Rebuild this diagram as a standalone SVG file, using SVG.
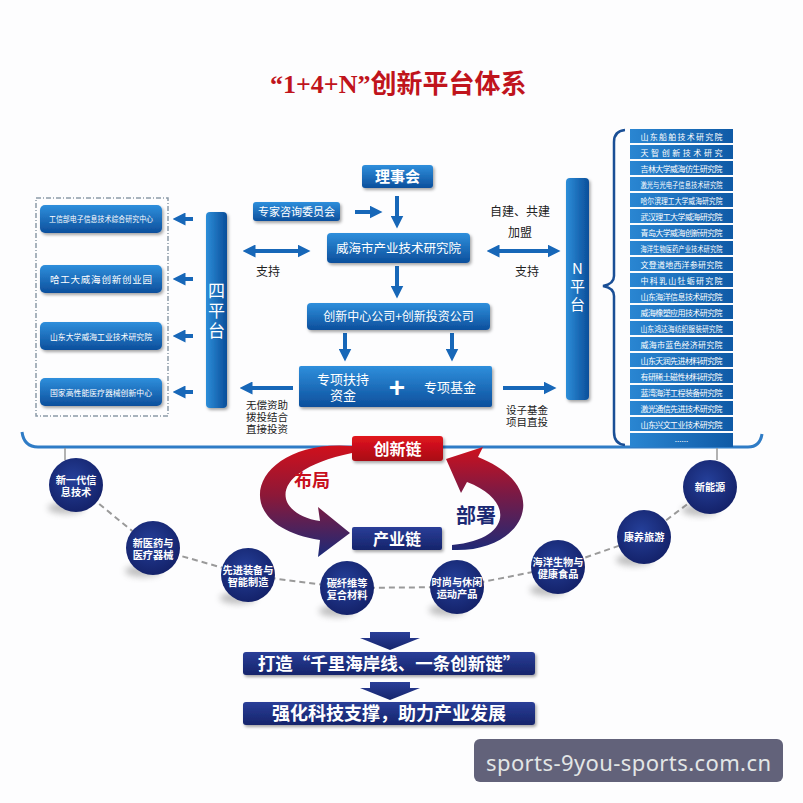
<svg xmlns="http://www.w3.org/2000/svg" width="803" height="803" viewBox="0 0 803 803">
<defs>
<style>
.cjk{font-family:"Noto Sans CJK SC","Noto Sans",sans-serif}
.wt{fill:#fff;text-anchor:middle}
.dk{fill:#222;text-anchor:middle}
.bx{fill:url(#gBox);filter:url(#sh)}
.ln{stroke:#1767b8;stroke-width:4;fill:none}
.li{fill:url(#gItem)}
.it{font-size:8px;fill:#fff;text-anchor:middle}
.cc{fill:url(#gCir)}
.ct{font-size:10.2px;font-weight:bold;fill:#fff;text-anchor:middle}
.cs{fill:#777;opacity:.45;filter:url(#bl)}
.nv{fill:url(#gNavy)}
</style>
<linearGradient id="gBox" x1="0" y1="0" x2="0" y2="1"><stop offset="0" stop-color="#2f8fdc"/><stop offset="1" stop-color="#0c4f9c"/></linearGradient>
<linearGradient id="gItem" x1="0" y1="0" x2="1" y2="0"><stop offset="0" stop-color="#2a86d2"/><stop offset="1" stop-color="#0f5aa6"/></linearGradient>
<linearGradient id="gBar" x1="0" y1="0" x2="1" y2="0"><stop offset="0" stop-color="#2d8ed9"/><stop offset="1" stop-color="#0b4e9a"/></linearGradient>
<linearGradient id="gRed" x1="0" y1="0" x2="0" y2="1"><stop offset="0" stop-color="#e2141f"/><stop offset="1" stop-color="#a80b15"/></linearGradient>
<linearGradient id="gNavy" x1="0" y1="0" x2="0" y2="1"><stop offset="0" stop-color="#2a3e98"/><stop offset="1" stop-color="#15246b"/></linearGradient>
<radialGradient id="gCir" cx="0.45" cy="0.4" r="0.6"><stop offset="0" stop-color="#25409a"/><stop offset="1" stop-color="#14226a"/></radialGradient>
<linearGradient id="gArc1" gradientUnits="userSpaceOnUse" x1="0" y1="446" x2="0" y2="556"><stop offset="0" stop-color="#d0101c"/><stop offset="0.45" stop-color="#8c1838"/><stop offset="1" stop-color="#1c2a78"/></linearGradient>
<linearGradient id="gArc2" gradientUnits="userSpaceOnUse" x1="0" y1="446" x2="0" y2="552"><stop offset="0" stop-color="#d0101c"/><stop offset="0.45" stop-color="#7a1a45"/><stop offset="1" stop-color="#1c2a78"/></linearGradient>
<filter id="sh" x="-10%" y="-20%" width="130%" height="160%"><feDropShadow dx="1.5" dy="2" stdDeviation="1.5" flood-color="#000" flood-opacity="0.35"/></filter>
<filter id="bl" x="-50%" y="-50%" width="200%" height="200%"><feGaussianBlur stdDeviation="3"/></filter>
<marker id="ah" viewBox="0 0 10 10" refX="5" refY="5" markerWidth="13" markerHeight="13" markerUnits="userSpaceOnUse" orient="auto-start-reverse"><path d="M0,0 L10,5 L0,10 z" fill="#1767b8"/></marker>
</defs>
<rect width="803" height="803" fill="#fdfdfe"/>

<text x="270" y="93" font-size="26" font-weight="bold" fill="#c0141c"><tspan font-family="Liberation Serif,serif">“1+4+N”</tspan><tspan font-family="Noto Sans CJK SC,sans-serif">创新平台体系</tspan></text>

<g id="connectors">
<line class="ln" x1="193" y1="219" x2="179" y2="219" marker-end="url(#ah)"/>
<line class="ln" x1="193" y1="279" x2="179" y2="279" marker-end="url(#ah)"/>
<line class="ln" x1="193" y1="336" x2="179" y2="336" marker-end="url(#ah)"/>
<line class="ln" x1="193" y1="392" x2="179" y2="392" marker-end="url(#ah)"/>
<line class="ln" x1="355" y1="212" x2="376" y2="212" marker-end="url(#ah)"/>
<line class="ln" x1="397" y1="196" x2="397" y2="222" marker-end="url(#ah)"/>
<line class="ln" x1="249" y1="251" x2="304" y2="251" marker-start="url(#ah)" marker-end="url(#ah)"/>
<line class="ln" x1="493" y1="251" x2="554" y2="251" marker-start="url(#ah)" marker-end="url(#ah)"/>
<line class="ln" x1="397" y1="266" x2="397" y2="292" marker-end="url(#ah)"/>
<line class="ln" x1="345" y1="333" x2="345" y2="355" marker-end="url(#ah)"/>
<line class="ln" x1="452" y1="333" x2="452" y2="355" marker-end="url(#ah)"/>
<line class="ln" x1="293" y1="388" x2="246" y2="388" marker-end="url(#ah)"/>
<line class="ln" x1="503" y1="388" x2="550" y2="388" marker-end="url(#ah)"/>
<path d="M22 432 Q24 447 38 447 L748 447 Q760 447 762 434" fill="none" stroke="#2f7cc6" stroke-width="3"/>
<path d="M625 130 Q614 131 614 142 L614 276 Q614 284 603 286 Q614 288 614 296 L614 432 Q614 444 625 445" fill="none" stroke="#1a4f96" stroke-width="2.5"/>
<line x1="65" y1="448" x2="65" y2="460" stroke="#999" stroke-width="1.5"/>
<line x1="717" y1="448" x2="717" y2="460" stroke="#999" stroke-width="1.5"/>
<polyline points="76,485 153,548 248,575 347,588 457,587 558,567 644,537 710,487" fill="none" stroke="#9a9a9a" stroke-width="2" stroke-dasharray="6,4"/>
<path d="M352 446 C252 438 222 525 320 540 L318 557 L350 533 L318 507 L320 521 C276 515 262 472 352 453 Z" fill="url(#gArc1)"/>
<path d="M452 550 C524 553 556 488 478 457 L483 447 L446 459 L461 493 L467 482 C515 500 512 540 452 545 Z" fill="url(#gArc2)"/>
<path d="M370 632 L410 632 L410 638 L420 638 L390 650 L360 638 L370 638 Z" fill="url(#gNavy)"/>
<path d="M370 682 L410 682 L410 688 L420 688 L390 700 L360 688 L370 688 Z" fill="url(#gNavy)"/>
</g>

<g id="left-platforms" class="cjk">
<rect x="36" y="198" width="132" height="218" fill="none" stroke="#8c9aa8" stroke-width="1.5" stroke-dasharray="5,2,1,2"/>
<g id="lp1"><rect class="bx" x="40" y="205" width="122" height="28" rx="5"/><text class="wt" x="101" y="222" font-size="8" textLength="104" lengthAdjust="spacingAndGlyphs">工信部电子信息技术综合研究中心</text></g>
<g id="lp2"><rect class="bx" x="40" y="265" width="122" height="28" rx="5"/><text class="wt" x="101" y="282.5" font-size="9.5" textLength="102">哈工大威海创新创业园</text></g>
<g id="lp3"><rect class="bx" x="40" y="322" width="122" height="28" rx="5"/><text class="wt" x="101" y="339.5" font-size="8.5" textLength="102" lengthAdjust="spacingAndGlyphs">山东大学威海工业技术研究院</text></g>
<g id="lp4"><rect class="bx" x="40" y="378" width="122" height="28" rx="5"/><text class="wt" x="101" y="395.5" font-size="8.5" textLength="102" lengthAdjust="spacingAndGlyphs">国家高性能医疗器械创新中心</text></g>
</g>

<g id="four-platform" class="cjk"><rect x="206" y="212" width="21" height="196" rx="4" fill="url(#gBar)" filter="url(#sh)"/><text class="wt" x="216.5" font-size="17"><tspan x="216.5" y="297">四</tspan><tspan x="216.5" y="317">平</tspan><tspan x="216.5" y="337">台</tspan></text></g>

<g id="n-platform" class="cjk"><rect x="566" y="178" width="23" height="222" rx="4" fill="url(#gBar)" filter="url(#sh)"/><text class="wt" font-size="15"><tspan x="577.5" y="274">N</tspan><tspan x="577.5" y="292">平</tspan><tspan x="577.5" y="310">台</tspan></text></g>

<g id="council" class="cjk"><rect class="bx" x="362" y="165" width="71" height="23" rx="3"/><text class="wt" x="397.5" y="182" font-size="15" font-weight="bold">理事会</text></g>
<g id="experts" class="cjk"><rect class="bx" x="253" y="202" width="87" height="19" rx="3"/><text class="wt" x="296.5" y="216" font-size="11">专家咨询委员会</text></g>
<g id="institute" class="cjk"><rect class="bx" x="327" y="233" width="143" height="30" rx="4"/><text class="wt" x="398.5" y="252.5" font-size="12.5">威海市产业技术研究院</text></g>
<g id="companies" class="cjk"><rect class="bx" x="307" y="303" width="183" height="27" rx="4"/><text class="wt" x="398.5" y="321" font-size="12">创新中心公司+创新投资公司</text></g>
<g id="funds" class="cjk"><rect class="bx" x="299" y="366" width="193" height="41" rx="2"/><text class="wt" font-size="13"><tspan x="343" y="384">专项扶持</tspan><tspan x="343" y="400">资金</tspan></text><text class="wt" x="397" y="397" font-size="28" font-weight="bold" font-family="Liberation Sans,sans-serif">+</text><text class="wt" x="450" y="392" font-size="13">专项基金</text></g>

<g id="labels" class="cjk">
<text class="dk" x="268" y="276" font-size="12">支持</text>
<text class="dk" x="520" y="216" font-size="12">自建、共建</text>
<text class="dk" x="520" y="237" font-size="12">加盟</text>
<text class="dk" x="527" y="276" font-size="12">支持</text>
<text class="dk" font-size="10.5"><tspan x="267" y="409">无偿资助</tspan><tspan x="267" y="421">拨投结合</tspan><tspan x="267" y="433">直接投资</tspan></text>
<text class="dk" font-size="10.5"><tspan x="527" y="414">设子基金</tspan><tspan x="527" y="426">项目直投</tspan></text>
</g>

<g id="n-list" class="cjk">
<rect class="li" x="630" y="129" width="103" height="14"/><text class="it" x="681.5" y="139.5" textLength="82">山东船舶技术研究院</text>
<rect class="li" x="630" y="145" width="103" height="14"/><text class="it" x="681.5" y="155.5" textLength="82">天智创新技术研究</text>
<rect class="li" x="630" y="161" width="103" height="14"/><text class="it" x="681.5" y="171.5" textLength="82">吉林大学威海仿生研究院</text>
<rect class="li" x="630" y="177" width="103" height="14"/><text class="it" x="681.5" y="187.5" textLength="82" lengthAdjust="spacingAndGlyphs">激光与光电子信息技术研究院</text>
<rect class="li" x="630" y="193" width="103" height="14"/><text class="it" x="681.5" y="203.5" textLength="82" lengthAdjust="spacingAndGlyphs">哈尔滨理工大学威海研究院</text>
<rect class="li" x="630" y="209" width="103" height="14"/><text class="it" x="681.5" y="219.5" textLength="82">武汉理工大学威海研究院</text>
<rect class="li" x="630" y="225" width="103" height="14"/><text class="it" x="681.5" y="235.5" textLength="82">青岛大学威海创新研究院</text>
<rect class="li" x="630" y="241" width="103" height="14"/><text class="it" x="681.5" y="251.5" textLength="82" lengthAdjust="spacingAndGlyphs">海洋生物医药产业技术研究院</text>
<rect class="li" x="630" y="257" width="103" height="14"/><text class="it" x="681.5" y="267.5" textLength="82">文登道地西洋参研究院</text>
<rect class="li" x="630" y="273" width="103" height="14"/><text class="it" x="681.5" y="283.5" textLength="82">中科乳山牡蛎研究院</text>
<rect class="li" x="630" y="289" width="103" height="14"/><text class="it" x="681.5" y="299.5" textLength="82">山东海洋信息技术研究院</text>
<rect class="li" x="630" y="305" width="103" height="14"/><text class="it" x="681.5" y="315.5" textLength="82">威海橡塑应用技术研究院</text>
<rect class="li" x="630" y="321" width="103" height="14"/><text class="it" x="681.5" y="331.5" textLength="82" lengthAdjust="spacingAndGlyphs">山东鸿达海纺织服装研究院</text>
<rect class="li" x="630" y="337" width="103" height="14"/><text class="it" x="681.5" y="347.5" textLength="82">威海市蓝色经济研究院</text>
<rect class="li" x="630" y="353" width="103" height="14"/><text class="it" x="681.5" y="363.5" textLength="82">山东天润先进材料研究院</text>
<rect class="li" x="630" y="369" width="103" height="14"/><text class="it" x="681.5" y="379.5" textLength="82">有研稀土磁性材料研究院</text>
<rect class="li" x="630" y="385" width="103" height="14"/><text class="it" x="681.5" y="395.5" textLength="82">蓝湾海洋工程装备研究院</text>
<rect class="li" x="630" y="401" width="103" height="14"/><text class="it" x="681.5" y="411.5" textLength="82">激光通信先进技术研究院</text>
<rect class="li" x="630" y="417" width="103" height="14"/><text class="it" x="681.5" y="427.5" textLength="82">山东兴文工业技术研究院</text>
<rect class="li" x="630" y="433" width="103" height="14"/><text class="it" x="681.5" y="442">......</text>
</g>

<g id="chain-innovation" class="cjk"><rect x="352" y="436" width="91" height="25" rx="3" fill="url(#gRed)" filter="url(#sh)"/><text class="wt" x="397.5" y="454.5" font-size="16" font-weight="bold">创新链</text></g>
<g id="chain-industry" class="cjk"><rect x="352" y="527" width="90" height="23" rx="2" class="nv" filter="url(#sh)"/><text class="wt" x="397" y="544.5" font-size="16" font-weight="bold">产业链</text></g>
<text class="cjk" x="312" y="487" font-size="18" font-weight="bold" fill="#c8101e" text-anchor="middle">布局</text>
<text class="cjk" x="476" y="523" font-size="20" font-weight="bold" fill="#1c2a74" text-anchor="middle">部署</text>

<g id="c1" class="cjk"><ellipse class="cs" cx="66" cy="508" rx="18" ry="6"/><circle class="cc" cx="76" cy="485" r="27"/><text class="ct"><tspan x="76" y="483.5">新一代信</tspan><tspan x="76" y="496">息技术</tspan></text></g>
<g id="c2" class="cjk"><ellipse class="cs" cx="143" cy="571" rx="18" ry="6"/><circle class="cc" cx="153" cy="548" r="27"/><text class="ct"><tspan x="153" y="546.5">新医药与</tspan><tspan x="153" y="559">医疗器械</tspan></text></g>
<g id="c3" class="cjk"><ellipse class="cs" cx="238" cy="598" rx="18" ry="6"/><circle class="cc" cx="248" cy="575" r="27"/><text class="ct"><tspan x="248" y="573.5">先进装备与</tspan><tspan x="248" y="586">智能制造</tspan></text></g>
<g id="c4" class="cjk"><ellipse class="cs" cx="337" cy="611" rx="18" ry="6"/><circle class="cc" cx="347" cy="588" r="27"/><text class="ct"><tspan x="347" y="586.5">碳纤维等</tspan><tspan x="347" y="599">复合材料</tspan></text></g>
<g id="c5" class="cjk"><ellipse class="cs" cx="447" cy="610" rx="18" ry="6"/><circle class="cc" cx="457" cy="587" r="27"/><text class="ct"><tspan x="457" y="585.5">时尚与休闲</tspan><tspan x="457" y="598">运动产品</tspan></text></g>
<g id="c6" class="cjk"><ellipse class="cs" cx="548" cy="590" rx="18" ry="6"/><circle class="cc" cx="558" cy="567" r="27"/><text class="ct"><tspan x="558" y="565.5">海洋生物与</tspan><tspan x="558" y="578">健康食品</tspan></text></g>
<g id="c7" class="cjk"><ellipse class="cs" cx="634" cy="560" rx="18" ry="6"/><circle class="cc" cx="644" cy="537" r="27"/><text class="ct" x="644" y="541">康养旅游</text></g>
<g id="c8" class="cjk"><ellipse class="cs" cx="700" cy="510" rx="18" ry="6"/><circle class="cc" cx="710" cy="487" r="27"/><text class="ct" x="710" y="491">新能源</text></g>

<g id="banner1" class="cjk"><rect x="243" y="652" width="292" height="23" rx="3" class="nv" filter="url(#sh)"/><text class="wt" x="389" y="670" font-size="17.5" font-weight="bold">打造“千里海岸线、一条创新链”</text></g>
<g id="banner2" class="cjk"><rect x="243" y="702" width="292" height="23" rx="3" class="nv" filter="url(#sh)"/><text class="wt" x="389" y="720" font-size="18" font-weight="bold">强化科技支撑，助力产业发展</text></g>

<g id="watermark"><rect x="474" y="739" width="309" height="43" rx="6" fill="#62627a"/><text x="628.5" y="771" font-family="Noto Sans,sans-serif" font-size="22" fill="#e2e6e6" text-anchor="middle" textLength="285">sports-9you-sports.com.cn</text></g>
</svg>
